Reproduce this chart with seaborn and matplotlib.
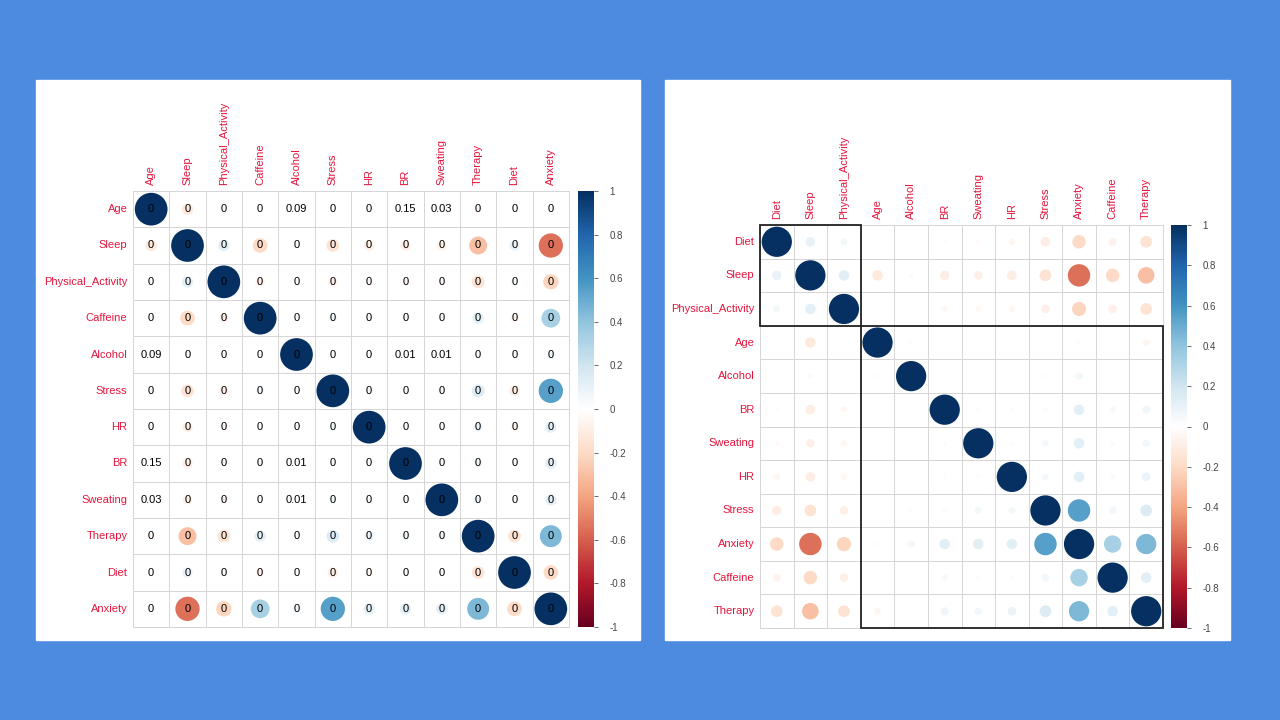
import numpy as np
import pandas as pd
import matplotlib.pyplot as plt
import seaborn as sns
from matplotlib.colors import LinearSegmentedColormap, ListedColormap, Normalize
from matplotlib.patches import Circle, Rectangle
from matplotlib.cm import ScalarMappable

# Variables in the original order (left panel)
variables = ['Age', 'Sleep', 'Physical_Activity', 'Caffeine', 'Alcohol', 'Stress',
             'HR', 'BR', 'Sweating', 'Therapy', 'Diet', 'Anxiety']

# Correlation rows (same order as variables)
r_age = [1, -0.12, -0.01, -0.01, 0.02, -0.01, -0.005, 0.01, -0.01, -0.05, -0.01, 0.02]
r_sleep = [-0.12, 1, 0.12, -0.2, -0.03, -0.15, -0.1, -0.1, -0.08, -0.3, 0.1, -0.55]
r_pa = [-0.01, 0.12, 1, -0.08, -0.01, -0.08, -0.04, -0.04, -0.04, -0.15, 0.05, -0.22]
r_caffeine = [-0.01, -0.2, -0.08, 1, 0.005, 0.06, 0.03, 0.04, 0.03, 0.12, -0.07, 0.33]
r_alcohol = [0.02, -0.03, -0.01, 0.005, 1, 0.02, 0.01, 0.005, 0.005, 0.01, 0.0, 0.06]
r_stress = [-0.01, -0.15, -0.08, 0.06, 0.02, 1, 0.05, 0.03, 0.05, 0.15, -0.1, 0.55]
r_hr = [-0.005, -0.1, -0.04, 0.03, 0.01, 0.05, 1, 0.02, 0.02, 0.08, -0.05, 0.12]
r_br = [0.01, -0.1, -0.04, 0.04, 0.005, 0.03, 0.02, 1, 0.02, 0.07, -0.02, 0.12]
r_sweating = [-0.01, -0.08, -0.04, 0.03, 0.005, 0.05, 0.02, 0.02, 1, 0.06, -0.03, 0.12]
r_therapy = [-0.05, -0.3, -0.15, 0.12, 0.01, 0.15, 0.08, 0.07, 0.06, 1, -0.15, 0.45]
r_diet = [-0.01, 0.1, 0.05, -0.07, 0.0, -0.1, -0.05, -0.02, -0.03, -0.15, 1, -0.2]
r_anxiety = [0.02, -0.55, -0.22, 0.33, 0.06, 0.55, 0.12, 0.12, 0.12, 0.45, -0.2, 1]

# p-values that are not zero (all others print as 0)
p_nonzero = [('Age', 'Alcohol', 0.09), ('Age', 'BR', 0.15), ('Age', 'Sweating', 0.03),
             ('Alcohol', 'BR', 0.01), ('Alcohol', 'Sweating', 0.01)]

# hclust order and cluster sizes (right panel)
hclust_order = ['Diet', 'Sleep', 'Physical_Activity', 'Age', 'Alcohol', 'BR',
                'Sweating', 'HR', 'Stress', 'Anxiety', 'Caffeine', 'Therapy']
cluster_sizes = [3, 9]

colorbar_ticks = [1, 0.8, 0.6, 0.4, 0.2, 0, -0.2, -0.4, -0.6, -0.8, -1]

corr = pd.DataFrame([r_age, r_sleep, r_pa, r_caffeine, r_alcohol, r_stress, r_hr,
                     r_br, r_sweating, r_therapy, r_diet, r_anxiety],
                    index=variables, columns=variables)
pvals = pd.DataFrame(0.0, index=variables, columns=variables)
for a, b, p in p_nonzero:
    pvals.loc[a, b] = p
    pvals.loc[b, a] = p

# corrplot RdBu palette
cmap = LinearSegmentedColormap.from_list('corrRdBu', [
    '#67001F', '#B2182B', '#D6604D', '#F4A582', '#FDDBC7', '#FFFFFF',
    '#D1E5F0', '#92C5DE', '#4393C3', '#2166AC', '#053061'])
norm = Normalize(-1, 1)

sns.set_style('white')
plt.rcParams['font.family'] = ['Liberation Sans', 'DejaVu Sans']

RED = '#e3173e'
W, H = 1280, 720


def fig_rect(x0, y0, x1, y1):
    # pixel box (top-left origin) -> figure fraction
    return [x0 / W, 1 - y1 / H, (x1 - x0) / W, (y1 - y0) / H]


def draw_corr(ax, cax, cm, pm=None, clusters=None):
    n = len(cm)
    sns.heatmap(np.zeros((n, n)), cmap=ListedColormap(['white']), cbar=False,
                linewidths=0.4, linecolor='#d6d6d6', ax=ax,
                xticklabels=list(cm.columns), yticklabels=list(cm.index))
    ax.collections[0].set_clip_on(False)  # keep the outer grid border
    ax.xaxis.tick_top()
    ax.tick_params(length=0, pad=4)
    for t in ax.get_xticklabels():
        t.set_rotation(90)
        t.set_color(RED)
        t.set_fontsize(8)
    for t in ax.get_yticklabels():
        t.set_rotation(0)
        t.set_color(RED)
        t.set_fontsize(8)
    for i in range(n):
        for j in range(n):
            r = cm.iloc[i, j]
            ax.add_patch(Circle((j + 0.5, i + 0.5), 0.45 * np.sqrt(abs(r)),
                                color=cmap(norm(r)), lw=0))
            if pm is not None:
                p = round(pm.iloc[i, j], 2)
                ax.text(j + 0.5, i + 0.5, f'{p:g}', ha='center', va='center',
                        fontsize=8, color='black')
    if clusters is not None:
        start = 0
        for size in clusters:
            ax.add_patch(Rectangle((start, start), size, size, fill=False,
                                   ec='#222222', lw=1.3, zorder=5, clip_on=False))
            start += size
    cb = plt.colorbar(ScalarMappable(norm=norm, cmap=cmap), cax=cax,
                      ticks=colorbar_ticks)
    cb.outline.set_visible(False)
    cb.ax.set_yticklabels([f'{v:g}' for v in colorbar_ticks])
    cb.ax.tick_params(length=3, width=0.6, color='#555555', pad=8,
                      labelsize=7, labelcolor='#444444')


fig = plt.figure(figsize=(12.8, 7.2), dpi=100, facecolor='#4c8be0')

# white panels
for box in [(36, 80, 640, 640), (665, 80, 1230, 640)]:
    x, y, w, h = fig_rect(*box)
    fig.add_artist(Rectangle((x, y), w, h, transform=fig.transFigure,
                             color='white', zorder=0))

# left: original order with p-values
ax1 = fig.add_axes(fig_rect(133, 191, 569, 627))
cax1 = fig.add_axes(fig_rect(578, 191, 594, 627))
draw_corr(ax1, cax1, corr, pm=pvals)

# right: hclust order with rectangles
corr_h = corr.loc[hclust_order, hclust_order]
ax2 = fig.add_axes(fig_rect(760, 225, 1163, 628))
cax2 = fig.add_axes(fig_rect(1171, 225, 1187, 628))
draw_corr(ax2, cax2, corr_h, clusters=cluster_sizes)

fig.savefig('out.png', dpi=100, facecolor=fig.get_facecolor())
